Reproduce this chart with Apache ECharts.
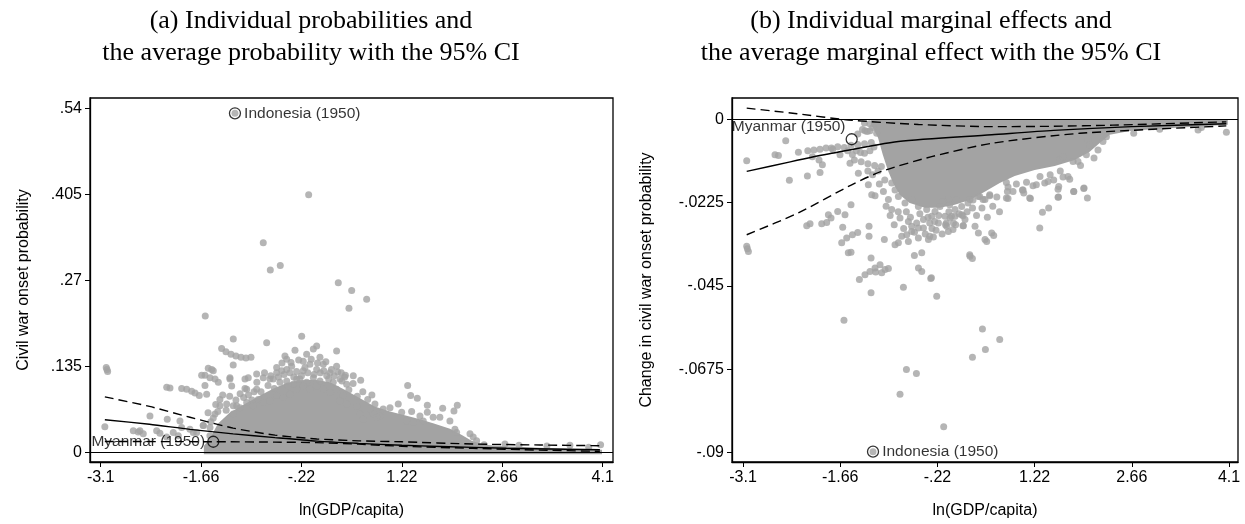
<!DOCTYPE html>
<html>
<head>
<meta charset="utf-8">
<script src="https://cdn.jsdelivr.net/npm/echarts@6/dist/echarts.min.js"></script>
<style>
html,body{margin:0;padding:0;background:#fff;}
#chart{width:1245px;height:524px;}
</style>
</head>
<body>
<div id="chart"></div>
<script>
// ---------- tick values / labels ----------
const xTicks = [-3.1, -1.66, -0.22, 1.22, 2.66, 4.1];
const xTickLabels = ['-3.1', '-1.66', '-.22', '1.22', '2.66', '4.1'];
const yTicksA = [0, 0.135, 0.27, 0.405, 0.54];
const yTickLabelsA = ['0', '.135', '.27', '.405', '.54'];
const yTicksB = [-0.09, -0.0675, -0.045, -0.0225, 0];
const yTickLabelsB = ['-.09', '-.0675', '-.045', '-.0225', '0'];

// ---------- panel (a): individual probabilities ----------
const ptsA = [
[-1.174,0.532],[-0.117,0.404],[-0.768,0.329],[-0.667,0.286],[-0.524,0.293],[-1.600,0.214],[0.308,0.266],[0.500,0.254],[0.715,0.240],[0.461,0.226],
[-1.198,0.178],[-0.719,0.172],[-0.217,0.182],[-0.313,0.160],[-0.457,0.151],
[-3.020,0.133],[-3.000,0.127],[-3.010,0.130],
[-1.365,0.163],[-1.303,0.158],[-1.231,0.154],[-1.160,0.151],[-1.087,0.149],[-1.016,0.148],[-0.944,0.149],[-1.199,0.137],[-1.246,0.117],[-1.221,0.104],
[-1.557,0.132],[-1.508,0.130],[-1.485,0.128],[-1.604,0.121],[-1.532,0.117],[-1.460,0.115],[-1.413,0.110],[-1.604,0.105],[-1.580,0.091],
[-2.153,0.102],[-2.106,0.101],[-1.938,0.100],[-1.867,0.099],[-1.795,0.096],[-1.747,0.093],[-1.686,0.089],
[-1.460,0.060],[-1.150,0.073],[-1.198,0.060],[-1.006,0.099],[-1.030,0.115],
[-0.863,0.123],[-0.768,0.117],[-0.672,0.115],[-0.576,0.133],[-0.504,0.128],[-0.432,0.130],[-0.361,0.135],[-0.289,0.115],[0.284,0.135],
[-3.040,0.040],[-2.393,0.057],[-2.145,0.052],[-1.963,0.049],[-2.632,0.034],[-2.561,0.032],[-2.537,0.034],[-2.250,0.030],[-2.059,0.031],[-1.987,0.026],[-1.820,0.036],[-1.723,0.031],[-1.628,0.042],[-1.532,0.039],
[-1.652,0.121],[-0.983,0.117],[-1.030,0.100],[-1.246,0.115],[-1.485,0.054],[-1.390,0.083],[-0.863,0.099],
[-2.489,0.029],[-2.297,0.034],[-2.154,0.024],[-1.939,0.039],[-1.772,0.031],[-1.629,0.042],[-1.533,0.026],
[-1.389,0.073],[-1.293,0.076],[-1.198,0.073],[-1.103,0.070],[-1.006,0.078],[-0.912,0.073],[-0.840,0.083],[-0.768,0.078],[-0.672,0.081],[-0.576,0.089],[-0.481,0.086],[-0.385,0.091],[-0.289,0.099],[-0.195,0.104],[-0.099,0.099],[-0.002,0.104],[0.093,0.099],[0.190,0.094],[0.284,0.099],[0.380,0.089],
[-0.625,0.115],[-0.529,0.110],[-0.432,0.112],[-0.338,0.107],[-0.243,0.115],[-0.146,0.110],[-0.050,0.117],[0.045,0.112],[0.142,0.120],[0.236,0.110],[0.333,0.115],[0.428,0.107],
[-0.576,0.125],[-0.385,0.125],[-0.195,0.128],[-0.002,0.130],[0.190,0.125],[-0.099,0.138],[0.093,0.138],
[-0.432,0.146],[-0.195,0.143],[0.045,0.149],[-0.146,0.154],[-0.050,0.162],[-0.002,0.167],[0.284,0.159],[0.350,0.125],[0.400,0.118],
[-0.86,0.110],[-0.80,0.095],[-0.75,0.125],[-0.70,0.105],[-0.66,0.120],[-0.61,0.100],[-0.55,0.118],[-0.50,0.140],[-0.47,0.122],[-0.41,0.104],[-0.37,0.141],[-0.33,0.118],[-0.29,0.127],[-0.26,0.145],[-0.22,0.120],[-0.17,0.133],[-0.13,0.125],[-0.08,0.146],[-0.04,0.122],[0.01,0.140],[0.05,0.125],[0.10,0.128],[0.13,0.142],[0.17,0.115],[0.21,0.130],[0.25,0.120],[0.30,0.126],[0.36,0.112],[0.41,0.121],[0.46,0.098],[0.52,0.108],[0.58,0.088],[0.66,0.095],[0.73,0.083],[0.79,0.090],
[-1.42,0.064],[-1.35,0.090],[-1.30,0.066],[-1.25,0.088],[-1.16,0.082],[-1.10,0.092],[-1.05,0.086],[-0.98,0.090],[-0.93,0.082],[-0.90,0.095],[-1.52,0.048],[-1.45,0.075],[-1.56,0.062],
[0.523,0.120],[0.629,0.113],[1.303,0.105],[1.346,0.089],[1.441,0.085],[1.585,0.074],[1.805,0.069],[2.015,0.074],[1.967,0.065],
[0.834,0.076],[1.050,0.070],[1.168,0.076],[1.217,0.063],[1.360,0.064],[1.585,0.063],[1.669,0.055],[1.765,0.055],[2.197,0.029],[2.243,0.024],[2.292,0.018],[2.698,0.013],[3.630,0.011],[4.070,0.012],
[0.332,0.081],[0.428,0.076],[0.572,0.072],[0.952,0.068],[0.905,0.057],[0.762,0.068],[0.810,0.060],[0.858,0.055],[0.618,0.060],[0.666,0.052],[1.479,0.057],[1.527,0.049],[1.909,0.049],[1.981,0.036],[2.005,0.031],[1.288,0.049],[1.383,0.047],
[2.400,0.012],[2.900,0.011],[3.300,0.010],[3.900,0.008]
];
// dense core of panel (a), outline of the solid grey mass
const coreA = [
[-1.62,-0.003],[-1.62,0.010],[-1.52,0.024],[-1.42,0.045],[-1.25,0.062],[-1.10,0.072],[-0.96,0.080],[-0.80,0.090],[-0.62,0.100],[-0.45,0.108],[-0.25,0.113],[-0.03,0.114],[0.19,0.110],[0.40,0.098],[0.62,0.085],[0.83,0.072],[1.05,0.064],[1.26,0.058],[1.48,0.052],[1.69,0.045],[1.91,0.037],[2.08,0.027],[2.22,0.018],[2.40,0.012],[2.63,0.010],[3.20,0.007],[3.78,0.005],[4.09,0.004],[4.09,-0.003]
];
const avgA = [[-3.04,0.051],[-2.4,0.044],[-1.82,0.036],[-1.2,0.029],[-0.6,0.023],[0,0.0175],[0.6,0.014],[1.22,0.011],[1.77,0.0092],[2.72,0.0063],[4.06,0.004]];
const upA  = [[-3.04,0.087],[-2.4,0.072],[-1.82,0.055],[-1.2,0.038],[-0.6,0.027],[0,0.021],[0.6,0.018],[1.22,0.0165],[2.24,0.013],[3.2,0.0115],[4.06,0.0103]];
const loA  = [[-3.04,0.017],[-1.5,0.0166],[-0.6,0.016],[0,0.0152],[0.6,0.0128],[1.22,0.0095],[2.24,0.0063],[3.2,0.0035],[4.06,0.0016]];
const indonesiaA = [-1.174, 0.532];
const myanmarA = [-1.485, 0.0166];

// ---------- panel (b): individual marginal effects ----------
const ptsB = [
[-1.174,-0.0898],
[-1.604,-0.0543],[-0.679,-0.0676],[-0.531,-0.0687],[-0.774,-0.0743],[-0.127,-0.0831],
[0.447,-0.0567],[0.703,-0.0595],[0.491,-0.0622],[0.299,-0.0643],
[-3.045,-0.0112],[-2.626,-0.0096],[-2.575,-0.0098],[-2.467,-0.0058],[-2.279,-0.0089],
[-2.140,-0.0085],[-2.050,-0.0083],[-1.960,-0.0081],[-1.870,-0.0078],
[-2.072,-0.0101],[-1.974,-0.0110],[-1.771,-0.0081],[-1.697,-0.0074],[-1.663,-0.0096],[-1.515,-0.0119],
[-2.413,-0.0165],[-2.146,-0.0153],[-1.959,-0.0144],[-1.924,-0.0123],[-1.391,-0.0146],[-1.293,-0.0031],[-1.219,-0.0031],[-1.243,-0.0177],[-1.193,-0.0204],[-1.144,-0.0207],
[-3.045,-0.0343],[-3.020,-0.0357],[-3.035,-0.0350],
[-2.156,-0.0288],[-2.107,-0.0282],[-1.934,-0.0282],[-1.860,-0.0279],[-1.796,-0.0267],[-1.835,-0.0258],[-1.697,-0.0249],[-1.589,-0.0258],[-1.500,-0.0231],[-1.623,-0.0292],
[-1.638,-0.0334],[-1.564,-0.0321],[-1.479,-0.0312],[-1.401,-0.0306],[-1.540,-0.0361],[-1.500,-0.0359],[-1.233,-0.0289],[-1.233,-0.0316],[-1.203,-0.0375],
[-1.376,-0.0433],[-1.293,-0.0420],[-1.219,-0.0411],[-1.144,-0.0402],[-1.070,-0.0393],[-0.996,-0.0406],[-0.946,-0.0403],[-1.134,-0.0413],[-1.045,-0.0415],[-1.203,-0.0469],
[-0.724,-0.0454],[-0.230,-0.0478],[-0.319,-0.0430],[-0.452,-0.0411],[-0.501,-0.0402],[-0.561,-0.0368],[-0.452,-0.0361],
[-0.107,-0.0262],[-0.033,-0.0267],[0.041,-0.0262],[0.140,-0.0258],[0.165,-0.0288],[-0.057,-0.0303],[0.263,-0.0370],[0.510,-0.0330],
[-1.006,-0.0325],[-0.848,-0.0339],[-0.749,-0.0316],[-0.675,-0.0312],[-0.601,-0.0303],[-0.601,-0.0289],[-0.502,-0.0294],[-0.427,-0.0294],[-0.798,-0.0334],[-0.650,-0.0330],[-0.502,-0.0321],[-0.353,-0.0325],[-0.279,-0.0318],
[-1.000,-0.0164],[-0.897,-0.0172],[-0.848,-0.0191],[-0.946,-0.0217],[-0.798,-0.0209],[-0.700,-0.0226],[-0.601,-0.0217],[-0.502,-0.0236],[-0.379,-0.0244],[-0.256,-0.0249],[-0.182,-0.0236],[-0.057,-0.0217],[0.041,-0.0244],[0.140,-0.0236],[0.263,-0.0217],[0.387,-0.0209],[0.485,-0.0217],
[-0.897,-0.0244],[-0.774,-0.0267],[-0.650,-0.0276],[-0.527,-0.0280],[-0.427,-0.0271],[-0.304,-0.0262],[-0.205,-0.0280],[-0.082,-0.0289],[0.017,-0.0280],[0.189,-0.0271],[0.337,-0.0289],[0.387,-0.0307],[0.485,-0.0325],[0.584,-0.0307],
[-0.309,-0.0428],[0.259,-0.0366],[0.298,-0.0376],[0.614,-0.0314],[1.296,-0.0294],[1.336,-0.0251],[1.428,-0.0240],[-0.334,-0.0316],[-0.334,-0.0280],[0.159,-0.0288],[0.011,-0.0298],[-0.087,-0.0280],[-0.013,-0.0262],[0.159,-0.0261],[-0.260,-0.0276],[-0.137,-0.0222],[-0.038,-0.0231],[0.061,-0.0218],[0.407,-0.0209],[0.555,-0.0207],[0.233,-0.0226],[0.307,-0.0218],[0.802,-0.0213],[0.817,-0.0195],[1.048,-0.0191],[1.147,-0.0213],[1.567,-0.0211],[1.567,-0.0189],[1.800,-0.0195],[1.948,-0.0187],[2.002,-0.0213],
[0.826,-0.0214],[1.158,-0.0214],[1.573,-0.0210],[1.952,-0.0186],[1.799,-0.0195],[1.577,-0.0182],[1.641,-0.0156],[1.715,-0.0155],[1.740,-0.0162],[1.503,-0.0164],[1.370,-0.0172],[1.419,-0.0168],[1.196,-0.0180],[1.246,-0.0177],[1.039,-0.0191],[1.059,-0.0199],[0.826,-0.0183],[0.802,-0.0171],[0.456,-0.0217],[0.555,-0.0204],
[2.159,-0.0083],[2.284,-0.0047],[2.233,-0.0060],[2.688,-0.0038],[2.011,-0.0056],[2.036,-0.0069],[1.987,-0.0096],[1.863,-0.0114],[1.789,-0.0114],[1.592,-0.0110],[1.641,-0.0101],[3.641,-0.0029],[3.691,-0.0022],[4.061,-0.0035],[3.073,-0.0027],[2.974,-0.0020],
[-1.790,-0.0078],[-1.600,-0.0076],[-1.500,-0.0070],[-1.400,-0.0068],[-1.300,-0.0066],[-1.200,-0.0063],
[-1.450,-0.0110],[-1.350,-0.0115],[-1.250,-0.0120],[-1.150,-0.0125],[-1.050,-0.0128],
[-1.400,-0.0040],[-1.330,-0.0028],[-1.260,-0.0033],[-1.180,-0.0022],[-1.120,-0.0038],
[-1.08,-0.0175],[-1.02,-0.0195],[-0.98,-0.0235],[-0.92,-0.0260],[-0.86,-0.0285],[-0.80,-0.0250],[-0.72,-0.0295],[-0.68,-0.0250],[-0.62,-0.0265],[-0.56,-0.0305],[-0.48,-0.0255],[-0.40,-0.0310],[-0.36,-0.0265],[-0.30,-0.0295],[-0.24,-0.0300],[-0.20,-0.0260],[-0.15,-0.0310],[-0.10,-0.0285],[-0.05,-0.0250],[0.05,-0.0285],[0.10,-0.0255],[0.22,-0.0250],[0.30,-0.0240],[0.36,-0.0260],[0.44,-0.0240],[0.52,-0.0265],[0.60,-0.0235],[0.66,-0.0210],[0.70,-0.0250],[0.90,-0.0195],[0.95,-0.0175],[1.10,-0.0170],[1.30,-0.0155],[1.45,-0.0150],[1.60,-0.0140],[1.90,-0.0125],[2.10,-0.0105],
[-1.55,-0.0085],[-1.48,-0.0095],[-1.42,-0.0085],[-1.36,-0.0090],[-1.30,-0.0092],[-1.22,-0.0085],[-1.16,-0.0075],[-1.25,-0.0140],[-1.18,-0.0150],[-1.10,-0.0140],[-1.30,-0.0010],[-1.22,-0.0012],[-1.15,-0.0010]
];
// dense core of panel (b), outline of the solid grey mass
const coreB = [
[-1.20,0.0],[-1.20,-0.0015],[-1.10,-0.0050],[-1.03,-0.0095],[-0.95,-0.0140],[-0.87,-0.0175],[-0.778,-0.0204],[-0.630,-0.0226],[-0.408,-0.0239],[-0.186,-0.0239],[0.036,-0.0231],[0.259,-0.0218],[0.481,-0.0196],[0.703,-0.0172],[0.925,-0.0153],[1.221,-0.0137],[1.518,-0.0126],[1.814,-0.0110],[2.036,-0.0088],[2.184,-0.0064],[2.332,-0.0042],[2.629,-0.0032],[3.073,-0.0026],[3.518,-0.0021],[4.081,-0.0015],[4.081,0.0]
];
const avgB = [[-3.045,-0.0141],[-2.4,-0.0115],[-1.786,-0.0092],[-0.798,-0.0060],[0.584,-0.0042],[1.5,-0.0030],[2.66,-0.0020],[4.06,-0.0012]];
const upB  = [[-3.045,0.0030],[-2.3,0.0015],[-1.54,-0.0002],[-0.5,-0.0014],[0.584,-0.0020],[1.5,-0.0019],[2.38,-0.0016],[4.06,-0.0007]];
const loB  = [[-3.045,-0.0312],[-2.28,-0.0253],[-1.49,-0.0177],[-1.05,-0.0141],[-0.305,-0.0101],[0.584,-0.0065],[1.89,-0.0038],[4.06,-0.0018]];
const indonesiaB = [-1.174, -0.0898];
const myanmarB = [-1.49, -0.0054];

// ---------- styling ----------
const GREY = '#a3a3a3';
const SANS = '"Liberation Sans", Arial, Helvetica, sans-serif';
const SERIF = '"Liberation Serif", "Times New Roman", serif';

function fmt(ticks, labels) {
  return function (v) {
    for (let i = 0; i < ticks.length; i++) if (Math.abs(ticks[i] - v) < 1e-7) return labels[i];
    return '';
  };
}
function xAxisDef(gi, min, max) {
  return {
    type: 'value', gridIndex: gi, min: min, max: max,
    name: 'ln(GDP/capita)', nameLocation: 'middle', nameGap: 41,
    nameTextStyle: { color: '#000', fontSize: 16, fontFamily: SANS },
    axisLine: { show: true, onZero: false, lineStyle: { color: '#000', width: 1.3 } },
    axisTick: { show: true, length: 5, customValues: xTicks, lineStyle: { color: '#000', width: 1 } },
    axisLabel: { customValues: xTicks, formatter: fmt(xTicks, xTickLabels), color: '#000', fontSize: 16, fontFamily: SANS, margin: 8 },
    splitLine: { show: false }
  };
}
function yAxisDef(gi, min, max, ticks, labels, name, gap) {
  return {
    type: 'value', gridIndex: gi, min: min, max: max,
    name: name, nameLocation: 'middle', nameGap: gap, nameRotate: 90,
    nameTextStyle: { color: '#000', fontSize: 16, fontFamily: SANS },
    axisLine: { show: true, onZero: false, lineStyle: { color: '#000', width: 1.3 } },
    axisTick: { show: true, length: 5, customValues: ticks, lineStyle: { color: '#000', width: 1 } },
    axisLabel: { customValues: ticks, formatter: fmt(ticks, labels), color: '#000', fontSize: 16, fontFamily: SANS, margin: 8 },
    splitLine: { show: false }
  };
}
function coreSeries(idx, pts) {
  return {
    type: 'custom', xAxisIndex: idx, yAxisIndex: idx, data: pts, encode: { x: 0, y: 1 }, z: 1, silent: true,
    renderItem: function (params, api) {
      if (params.dataIndex !== 0) return;
      return { type: 'polygon', shape: { points: pts.map(function (p) { return api.coord(p); }) }, style: { fill: GREY } };
    }
  };
}
function scatterSeries(idx, pts) {
  return { type: 'scatter', xAxisIndex: idx, yAxisIndex: idx, data: pts, symbolSize: 7, itemStyle: { color: GREY }, z: 2, silent: true };
}
function lineSeries(idx, pts, dashed, extra) {
  const s = {
    type: 'line', xAxisIndex: idx, yAxisIndex: idx, data: pts, showSymbol: false, smooth: 0.25, z: 3, silent: true,
    lineStyle: { color: '#000', width: 1.4, type: dashed ? [9, 5] : 'solid' }
  };
  return Object.assign(s, extra || {});
}
function zeroLine() {
  return { markLine: { silent: true, symbol: ['none', 'none'], label: { show: false },
    lineStyle: { color: '#000', type: 'solid', width: 1.2 }, data: [{ yAxis: 0 }] } };
}
function ringSeries(idx, pt, text, pos, dist, offset) {
  return {
    type: 'scatter', xAxisIndex: idx, yAxisIndex: idx, data: [pt], symbolSize: 11, z: 5, silent: true,
    itemStyle: { color: 'rgba(0,0,0,0)', borderColor: '#000', borderWidth: 1.3 },
    label: { show: true, formatter: text, position: pos, distance: dist, offset: offset || [0, 0],
      color: '#000', fontSize: 15.5, fontFamily: SANS }
  };
}

const chart = echarts.init(document.getElementById('chart'), null, { renderer: 'canvas' });
chart.setOption({
  animation: false,
  backgroundColor: '#fff',
  graphic: [
    { type: 'text', x: 311, y: 21, style: { text: '(a) Individual probabilities and', font: '26px ' + SERIF, fill: '#000', textAlign: 'center', textVerticalAlign: 'middle' } },
    { type: 'text', x: 311, y: 53, style: { text: 'the average probability with the 95% CI', font: '26px ' + SERIF, fill: '#000', textAlign: 'center', textVerticalAlign: 'middle' } },
    { type: 'text', x: 931, y: 21, style: { text: '(b) Individual marginal effects and', font: '26px ' + SERIF, fill: '#000', textAlign: 'center', textVerticalAlign: 'middle' } },
    { type: 'text', x: 931, y: 53, style: { text: 'the average marginal effect with the 95% CI', font: '26px ' + SERIF, fill: '#000', textAlign: 'center', textVerticalAlign: 'middle' } }
  ],
  grid: [
    { left: 90, top: 98, width: 523, height: 365, show: true, borderColor: '#000', borderWidth: 1.3, backgroundColor: '#fff' },
    { left: 732, top: 98, width: 506, height: 365, show: true, borderColor: '#000', borderWidth: 1.3, backgroundColor: '#fff' }
  ],
  xAxis: [xAxisDef(0, -3.253, 4.248), xAxisDef(1, -3.263, 4.233)],
  yAxis: [
    yAxisDef(0, -0.0152, 0.556, yTicksA, yTickLabelsA, 'Civil war onset probability', 58),
    yAxisDef(1, -0.0926, 0.00574, yTicksB, yTickLabelsB, 'Change in civil war onset probability', 77)
  ],
  series: [
    coreSeries(0, coreA),
    scatterSeries(0, ptsA),
    lineSeries(0, avgA, false, zeroLine()),
    lineSeries(0, upA, true),
    lineSeries(0, loA, true),
    ringSeries(0, indonesiaA, 'Indonesia (1950)', 'right', 3),
    ringSeries(0, myanmarA, 'Myanmar (1950)', 'left', 2),
    coreSeries(1, coreB),
    scatterSeries(1, ptsB),
    lineSeries(1, avgB, false, zeroLine()),
    lineSeries(1, upB, true),
    lineSeries(1, loB, true),
    ringSeries(1, indonesiaB, 'Indonesia (1950)', 'right', 3),
    ringSeries(1, myanmarB, 'Myanmar (1950)', 'left', 0, [0, -12.5])
  ]
});
</script>
</body>
</html>
